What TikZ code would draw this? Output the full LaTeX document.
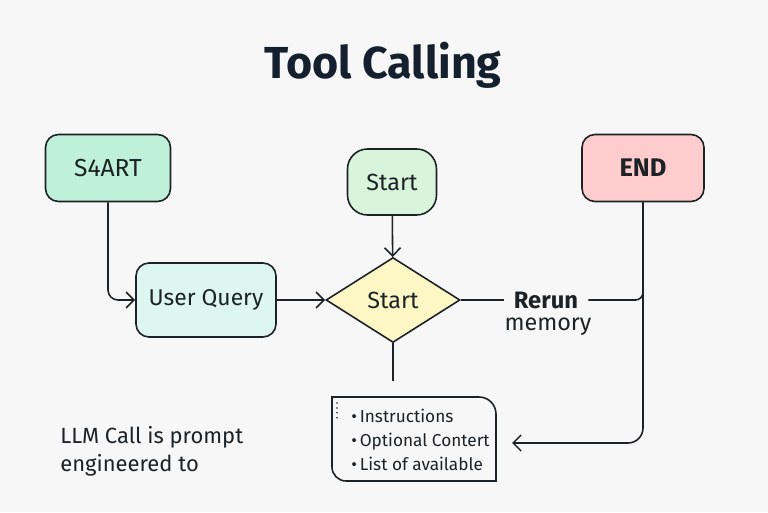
\documentclass[tikz,border=0pt]{standalone}
\usepackage{fontspec}
\setmainfont{Fira Sans}
\usetikzlibrary{shapes.geometric,arrows.meta}
\pgfdeclarelayer{bg}
\pgfsetlayers{bg,main}
\definecolor{paper}{HTML}{F7F7F7}
\definecolor{ink}{HTML}{1C2226}
\definecolor{navy}{HTML}{15202E}
\definecolor{mint}{HTML}{BFF0D9}
\definecolor{mintlight}{HTML}{DDF6EF}
\definecolor{greenlight}{HTML}{D8F5DC}
\definecolor{lemon}{HTML}{FDF7C6}
\definecolor{rose}{HTML}{FFCCCD}
\tikzset{
    every node/.style={text=ink, inner sep=1mm},
    box/.style={rectangle, rounded corners=2.6mm, draw=ink, line width=0.9pt,
        font=\fontsize{14}{16}\selectfont},
    wire/.style={draw=ink, line width=0.9pt},
    arr/.style={wire, -{Straight Barb[length=1.6mm,width=3.2mm]}}
}

\begin{document}
\begin{tikzpicture}
    \useasboundingbox (0,0) rectangle (15.36,10.24);

    \node (title) [text=navy, font=\fontsize{25.5}{30}\selectfont\bfseries] at (7.66, 8.94) {Tool Calling};

    \node (s4) [box, fill=mint, minimum width=2.5cm, minimum height=1.34cm] at (2.16, 6.88) {S4ART};
    \node (query) [box, fill=mintlight, minimum width=2.8cm, minimum height=1.48cm, font=\fontsize{13}{16}\selectfont] at (4.12, 4.24) {User Query};
    \node (start) [box, fill=greenlight, rounded corners=4mm, minimum width=1.78cm, minimum height=1.32cm, font=\fontsize{13.3}{16}\selectfont] at (7.84, 6.6) {Start};
    \node (dec) [diamond, draw=ink, line width=0.9pt, fill=lemon, inner sep=0mm, minimum width=2.68cm, minimum height=1.7cm, font=\fontsize{13.3}{16}\selectfont] at (7.86, 4.24) {Start};
    \node (endn) [box, fill=rose, minimum width=2.44cm, minimum height=1.34cm, font=\fontsize{14.5}{16}\selectfont\bfseries] at (12.86, 6.88) {END};

    \node (rerun) [inner xsep=2mm, font=\fontsize{13.5}{16}\selectfont\bfseries] at (10.92, 4.24) {Rerun};
    \node (mem) [font=\fontsize{13.3}{16}\selectfont] at (10.96, 3.70) {memory};

    \node (notes) [anchor=west, align=left, font=\fontsize{9.8}{13.6}\selectfont] at (6.92, 1.44)
        {\textbullet\,Instructions\\ \textbullet\,Optional Contert\\ \textbullet\,List of available};
    \node (llm) [anchor=west, align=left, font=\fontsize{12.5}{15.9}\selectfont] at (1.1, 1.22)
        {LLM Call is prompt\\ engineered to};

    \coordinate (dd) at (7.86, 2.62);
    \coordinate (nin) at (10.24, 1.38);

    % notes frame
    \draw[wire] (6.64,2.30) -- (9.58,2.30) arc[start angle=90, end angle=0, radius=0.34]
        -- (9.92,0.62) -- (6.92,0.62) arc[start angle=270, end angle=180, radius=0.28] -- cycle;
    \draw[ink, line width=1pt, line cap=round, dash pattern=on 0pt off 2.8pt] (6.74,2.18) -- (6.74,1.80);

    \begin{pgfonlayer}{bg}
        \fill[paper] (0,0) rectangle (15.36,10.24);
        \draw[arr, rounded corners=2mm] (s4.south) |- (query.west);
        \draw[arr] (query) -- (dec);
        \draw[arr] (start) -- (dec);
        \draw[wire] (dec.south) -- (dd);
        \draw[wire] (dec.east) -- (rerun.west);
        \draw[wire, rounded corners=1.5mm] (rerun.east) -| (endn.south);
        \draw[arr, rounded corners=3mm] (endn.south) |- (nin);
    \end{pgfonlayer}
\end{tikzpicture}
\end{document}
